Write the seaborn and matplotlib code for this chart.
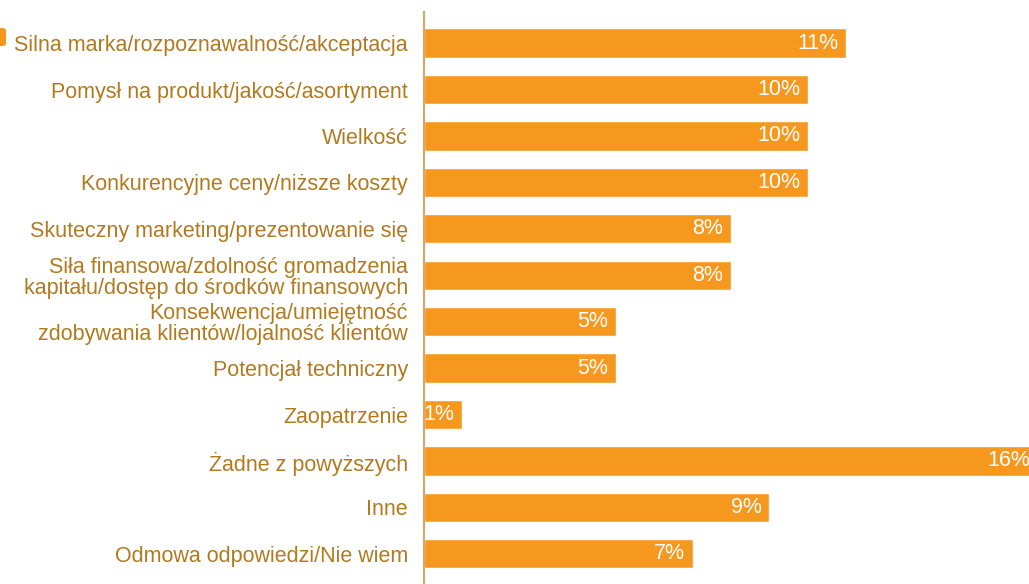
import matplotlib
matplotlib.use("Agg")
import matplotlib.pyplot as plt
from matplotlib.patches import FancyBboxPatch
import seaborn as sns
import pandas as pd

categories = [
    "Silna marka/rozpoznawalność/akceptacja",
    "Pomysł na produkt/jakość/asortyment",
    "Wielkość",
    "Konkurencyjne ceny/niższe koszty",
    "Skuteczny marketing/prezentowanie się",
    "Siła finansowa/zdolność gromadzenia\nkapitału/dostęp do środków finansowych",
    "Konsekwencja/umiejętność\nzdobywania klientów/lojalność klientów",
    "Potencjał techniczny",
    "Zaopatrzenie",
    "Żadne z powyższych",
    "Inne",
    "Odmowa odpowiedzi/Nie wiem",
]
values = [11, 10, 10, 10, 8, 8, 5, 5, 1, 16, 9, 7]

BAR = "#F7981E"
TEXT = "#B27A1F"
AXIS = "#D9A566"

sns.set_style("white")
plt.rcParams["font.family"] = ["Liberation Sans", "DejaVu Sans"]

df = pd.DataFrame({"cat": categories, "val": values})

W, H = 1029, 584
fig = plt.figure(figsize=(W / 100, H / 100), dpi=100)
ax = fig.add_axes([424 / W, 0.0, 1 - 424 / W, 1 - 12 / H])

sns.barplot(data=df, y="cat", x="val", orient="h", color=BAR, saturation=1,
            width=0.63, ax=ax)

ax.set_xlim(0, 15.76)
ax.set_ylim(11.65, -0.67)
ax.set_xlabel("")
ax.set_ylabel("")
ax.set_xticks([])

for s in ["top", "right", "bottom"]:
    ax.spines[s].set_visible(False)
ax.spines["left"].set_color(AXIS)
ax.spines["left"].set_linewidth(1.5)

ax.tick_params(axis="y", length=0, pad=11.5, labelsize=15.5, labelcolor=TEXT)
for lbl in ax.get_yticklabels():
    lbl.set_linespacing(1.0)

for container in ax.containers:
    texts = ax.bar_label(container, labels=[f"{v}%" for v in values],
                         padding=-5.5, color="white", fontsize=15.5,
                         label_type="edge", clip_on=False)
    for t in texts:
        t.set_horizontalalignment("right")
        t.set_annotation_clip(False)

# small orange bullet at the left edge
fig.add_artist(FancyBboxPatch((-8 / W, 1 - 46 / H), 14 / W, 18 / H,
                              boxstyle="round,pad=0,rounding_size=0.004",
                              transform=fig.transFigure, color=BAR, lw=0))

fig.savefig("out.png", dpi=100)
